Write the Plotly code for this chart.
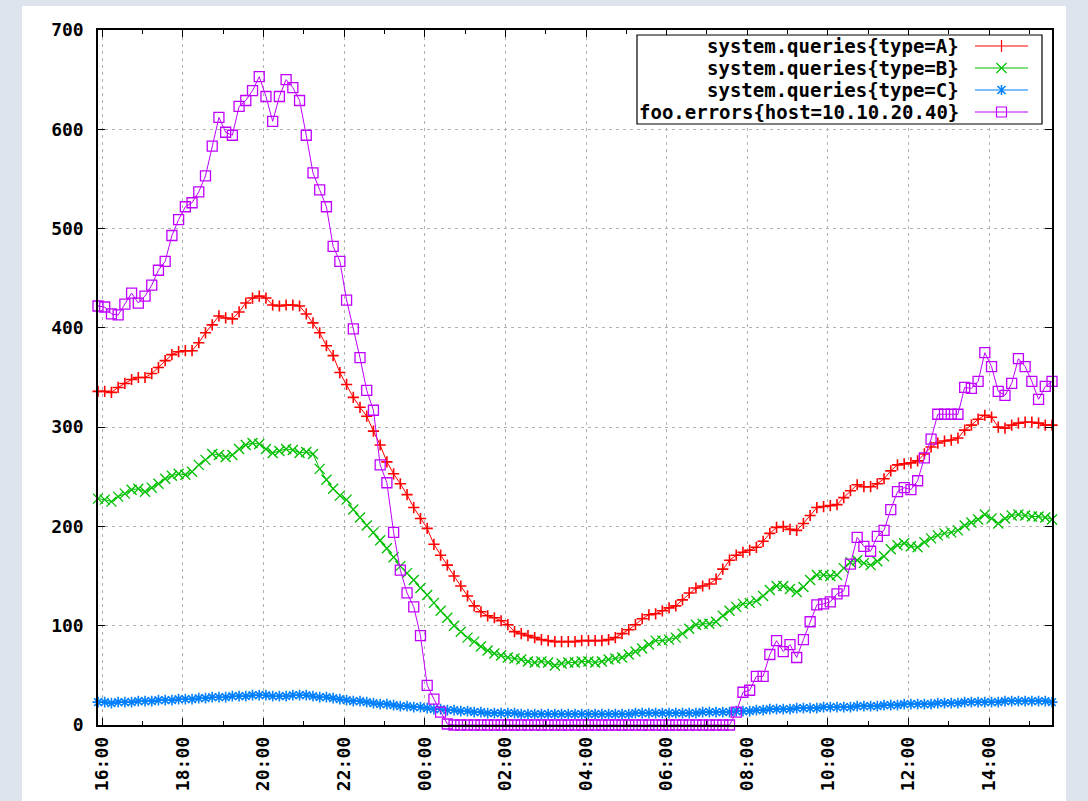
import pandas as pd
import plotly.graph_objects as go

# ---------------- data ----------------
START = "2013-06-10 15:53:36"
STEP = "10min"

NAMES = ["system.queries{type=A}", "system.queries{type=B}",
         "system.queries{type=C}", "foo.errors{host=10.10.20.40}"]

QUERIES_A = [
    336, 336, 335, 340, 344, 348, 350, 350, 354, 360,
    367, 373, 376, 377, 377, 385, 395, 403, 412, 410,
    409, 416, 425, 430, 432, 430, 423, 422, 423, 423,
    422, 414, 405, 395, 382, 372, 355, 343, 330, 320,
    311, 296, 282, 265, 253, 243, 232, 219, 208, 198,
    182, 171, 161, 150, 140, 130, 120, 114, 110, 108,
    105, 101, 94, 92, 90, 88, 86, 85, 84, 84,
    84, 84, 85, 85, 85, 85, 86, 88, 92, 96,
    101, 107, 111, 112, 115, 118, 120, 126, 133, 138,
    140, 142, 147, 157, 166, 171, 174, 176, 179, 185,
    193, 199, 200, 197, 196, 203, 211, 219, 220, 221,
    222, 229, 236, 242, 240, 240, 243, 248, 256, 262,
    263, 264, 266, 273, 280, 284, 286, 287, 289, 297,
    302, 308, 312, 310, 300, 299, 302, 304, 305, 305,
    304, 302, 302,
]

QUERIES_B = [
    228, 227, 225, 230, 233, 237, 238, 235, 239, 243,
    248, 251, 253, 252, 255, 262, 267, 273, 272, 270,
    272, 278, 282, 284, 283, 278, 274, 276, 278, 277,
    274, 275, 273, 258, 247, 238, 231, 227, 217, 209,
    201, 194, 186, 178, 169, 160, 153, 146, 138, 131,
    123, 115, 108, 100, 94, 88, 84, 79, 75, 72,
    70, 68, 67, 66, 64, 63, 64, 63, 60, 62,
    63, 63, 64, 64, 63, 64, 66, 67, 68, 71,
    74, 77, 81, 85, 85, 86, 88, 92, 97, 101,
    102, 102, 104, 110, 115, 119, 122, 123, 125, 130,
    136, 140, 140, 137, 134, 139, 146, 151, 151, 150,
    151, 158, 164, 166, 163, 161, 165, 170, 177, 181,
    183, 180, 179, 184, 188, 191, 193, 194, 196, 201,
    204, 207, 212, 208, 203, 208, 211, 212, 211, 210,
    210, 209, 207,
]

QUERIES_C = [
    23, 23, 22, 23, 23, 23, 24, 24, 24, 25, 25,
    25, 26, 26, 26, 27, 27, 28, 28, 28, 29,
    29, 29, 30, 30, 30, 29, 29, 29, 30, 30,
    30, 29, 28, 28, 27, 26, 25, 24, 24, 23,
    22, 21, 21, 20, 19, 19, 18, 18, 17, 16,
    16, 15, 15, 14, 14, 13, 13, 12, 12, 12,
    12, 12, 11, 11, 11, 11, 11, 11, 11, 11,
    11, 11, 11, 11, 11, 11, 11, 11, 11, 12,
    12, 12, 12, 12, 12, 12, 12, 12, 12, 13,
    13, 13, 13, 13, 14, 14, 14, 15, 15, 16,
    16, 16, 16, 17, 17, 17, 17, 18, 18, 18,
    18, 18, 19, 19, 19, 19, 20, 20, 20, 21,
    21, 21, 21, 21, 22, 22, 22, 22, 23, 23,
    23, 23, 23, 23, 24, 24, 24, 24, 24, 24, 24, 23,
]

FOO_ERRORS = [
    422, 421, 414, 413, 424, 435, 425, 432, 443, 458,
    467, 493, 509, 522, 526, 537, 553, 583, 612, 597,
    594, 623, 629, 639, 653, 633, 608, 633, 650, 642,
    629, 594, 556, 539, 522, 482, 467, 428, 399, 370,
    337, 317, 262, 244, 194, 156, 133, 119, 90, 40,
    26, 13, 1,
    0, 0, 0, 0, 0, 0, 0, 0, 0, 0,
    0, 0, 0, 0, 0, 0, 0, 0, 0, 0,
    0, 0, 0, 0, 0, 0, 0, 0, 0, 0,
    0, 0, 0, 0, 0, 0, 0, 0, 0, 0,
    0, 0,
    13, 33, 35, 49, 49,
    71, 85, 74, 81, 68, 86, 104, 121, 122, 124,
    132, 135, 162, 189, 180, 175, 190, 196, 217, 235,
    239, 237, 246, 269, 288, 313, 313, 313, 313, 340,
    339, 346, 375, 361, 336, 332, 344, 369, 361, 346,
    328, 341, 346,
]

Y_TICKS = [0, 100, 200, 300, 400, 500, 600, 700]

SERIES = [QUERIES_A, QUERIES_B, QUERIES_C, FOO_ERRORS]
assert all(len(s) == len(QUERIES_A) for s in SERIES), [len(s) for s in SERIES]

times = pd.date_range(START, periods=len(QUERIES_A), freq=STEP)

# ---------------- style ----------------
COLORS = ["#ff0000", "#00c000", "#0080ff", "#c000ff"]
SYMBOLS = ["cross-thin", "x-thin", "asterisk", "square-open"]
SIZES = [8, 10, 9, 10]
MLW = [1.6, 1.3, 1.6, 1.3]
FONT = dict(family="DejaVu Sans Mono", size=18, color="#000000", weight="bold")

W, H = 1088, 801
L, R, T, B = 98, 1052, 30, 725


def px(x):
    return (x - L) / (R - L)


def py(y):
    return (B - y) / (B - T)


fig = go.Figure()
for name, vals, col, sym, size, mlw in zip(NAMES, SERIES, COLORS, SYMBOLS, SIZES, MLW):
    fig.add_trace(go.Scatter(
        x=times, y=vals, mode="lines+markers", name=name,
        line=dict(color=col, width=1),
        marker=dict(symbol=sym, size=size, color=col,
                    line=dict(color=col, width=mlw)),
        cliponaxis=False, showlegend=False,
    ))

shapes = []
# white card behind the chart
shapes.append(dict(type="rect", xref="paper", yref="paper",
                   x0=px(22), x1=px(1066), y0=py(810), y1=py(6),
                   fillcolor="#ffffff", line=dict(width=0), layer="below"))

# custom gnuplot-like key
shapes.append(dict(type="rect", xref="paper", yref="paper",
                   x0=px(637), x1=px(1042), y0=py(124), y1=py(35),
                   fillcolor="#ffffff", line=dict(color="#000000", width=1.2),
                   layer="above"))
annotations = []
rows = [46, 68, 90, 112]
cx = 1001.5
for name, col, sym, cy in zip(NAMES, COLORS, SYMBOLS, rows):
    annotations.append(dict(xref="paper", yref="paper", x=px(961), y=py(cy),
                            xanchor="right", yanchor="middle", showarrow=False,
                            text=name, font=dict(FONT, size=19)))
    ln = dict(color=col, width=1.2)
    shapes.append(dict(type="line", xref="paper", yref="paper",
                       x0=px(975), x1=px(1028), y0=py(cy), y1=py(cy),
                       line=ln, layer="above"))
    if sym == "cross-thin":
        shapes.append(dict(type="line", xref="paper", yref="paper",
                           x0=px(cx), x1=px(cx), y0=py(cy - 6), y1=py(cy + 6),
                           line=ln, layer="above"))
    elif sym == "x-thin":
        shapes.append(dict(type="line", xref="paper", yref="paper",
                           x0=px(cx - 5), x1=px(cx + 5), y0=py(cy - 5), y1=py(cy + 5),
                           line=ln, layer="above"))
        shapes.append(dict(type="line", xref="paper", yref="paper",
                           x0=px(cx - 5), x1=px(cx + 5), y0=py(cy + 5), y1=py(cy - 5),
                           line=ln, layer="above"))
    elif sym == "asterisk":
        for dx, dy in [(0, 5), (4, 4), (4, -4)]:
            shapes.append(dict(type="line", xref="paper", yref="paper",
                               x0=px(cx - dx), x1=px(cx + dx), y0=py(cy - dy), y1=py(cy + dy),
                               line=dict(color=col, width=1.6), layer="above"))
    else:
        shapes.append(dict(type="rect", xref="paper", yref="paper",
                           x0=px(cx - 5), x1=px(cx + 5), y0=py(cy + 5), y1=py(cy - 5),
                           line=ln, layer="above"))

fig.update_layout(
    width=W, height=H,
    margin=dict(l=L, r=W - R, t=T, b=H - B, pad=0, autoexpand=False),
    paper_bgcolor="#dde4ed",
    plot_bgcolor="#ffffff",
    font=FONT,
    showlegend=False,
    shapes=shapes,
    annotations=annotations,
)

GRID_DASH = "3px,4px"
fig.update_xaxes(
    type="date",
    range=[times[0], times[-1]],
    tickformat="%H:%M",
    tick0="2013-06-10 16:00",
    dtick=2 * 3600 * 1000,
    tickangle=-90,
    ticks="inside", ticklen=7, tickwidth=1.2, tickcolor="#000000",
    minor=dict(dtick=3600 * 1000, tick0="2013-06-10 16:00", ticks="inside",
               ticklen=4, tickcolor="#000000", showgrid=False),
    showline=True, linecolor="#000000", linewidth=1.5, mirror="ticks",
    showgrid=True, gridcolor="#b0b0b0", gridwidth=1, griddash=GRID_DASH,
    zeroline=False, automargin=False,
    ticklabelstandoff=3,
    tickfont=FONT,
)
fig.update_yaxes(
    range=[0, 700],
    tickvals=Y_TICKS,
    ticks="inside", ticklen=7, tickwidth=1.2, tickcolor="#000000",
    showline=True, linecolor="#000000", linewidth=1.5, mirror="ticks",
    showgrid=True, gridcolor="#b0b0b0", gridwidth=1, griddash=GRID_DASH,
    zeroline=False, automargin=False,
    ticklabelstandoff=9,
    tickfont=FONT,
)

fig.write_html("out.html",
               config={"displayModeBar": False},
               post_script="document.body.style.margin='0';document.body.style.overflow='hidden';")
